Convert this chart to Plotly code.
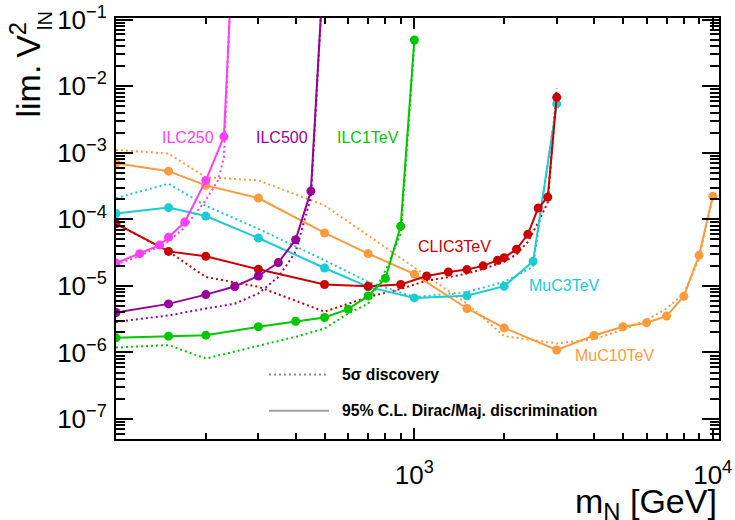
import plotly.graph_objects as go

# ---------------- data ----------------
ilc250_m = [100, 120, 140, 150, 170, 200, 230, 250]
ilc250_lim = [2.2e-5, 3.05e-5, 4.1e-5, 5.4e-5, 9.1e-5, 3.85e-4, 1.75e-3, 4.5]
ilc250_disc_m = [100, 120, 150, 170, 200, 220, 230, 250]
ilc250_disc = [2.1e-5, 2.8e-5, 4.6e-5, 7.6e-5, 1.95e-4, 3.9e-4, 8.5e-4, 8.5]

ilc500_m = [100, 150, 200, 250, 300, 350, 400, 450, 500]
ilc500_lim = [3.98e-6, 5.37e-6, 7.4e-6, 9.8e-6, 1.41e-5, 2.24e-5, 4.95e-5, 2.66e-4, 1.1]
ilc500_disc = [2.88e-6, 3.6e-6, 4.57e-6, 5.4e-6, 7.7e-6, 1.36e-5, 3.24e-5, 2.16e-4, 1.1]

ilc1_m = [100, 150, 200, 300, 400, 500, 600, 700, 800, 900, 1000]
ilc1_lim = [1.66e-6, 1.76e-6, 1.82e-6, 2.43e-6, 2.95e-6, 3.35e-6, 4.47e-6, 7.08e-6, 1.3e-5, 7.9e-5, 4.94e-2]
ilc1_disc = [1.19e-6, 1.29e-6, 8.1e-7, 1.24e-6, 1.72e-6, 2.29e-6, 3.85e-6, 5.4e-6, 1.7e-5, 6.1e-5, 4.5e-2]

clic_m = [100, 150, 200, 300, 500, 700, 900, 1100, 1300, 1500, 1700, 1900, 2000, 2200, 2400, 2600, 2800, 3000]
clic_lim = [8.6e-5, 3.3e-5, 2.78e-5, 1.78e-5, 1.05e-5, 9.9e-6, 1.05e-5, 1.41e-5, 1.62e-5, 1.76e-5,
            2.0e-5, 2.43e-5, 2.66e-5, 3.55e-5, 5.96e-5, 1.48e-4, 2.16e-4, 6.8e-3]
clic_disc = [8.6e-5, 3.3e-5, 1.36e-5, 9.7e-6, 4.1e-6, 6.8e-6, 9.0e-6, 1.2e-5, 1.35e-5, 1.53e-5,
             1.8e-5, 2.1e-5, 2.29e-5, 3.0e-5, 4.57e-5, 9.0e-5, 1.8e-4, 9.3e-3]

muc3_m = [100, 150, 200, 300, 500, 700, 1000, 1500, 2000, 2500, 3000]
muc3_lim = [1.22e-4, 1.5e-4, 1.12e-4, 5.25e-5, 1.86e-5, 9.66e-6, 6.6e-6, 7.1e-6, 9.9e-6, 2.34e-5, 5.43e-3]
muc3_disc = [2.09e-4, 3.43e-4, 1.6e-4, 7.2e-5, 2.43e-5, 1.15e-5, 6.8e-6, 8.1e-6, 1.15e-5, 1.93e-5, 6.0e-3]

muc10_m = [100, 150, 200, 300, 500, 700, 1000, 1500, 2000, 3000, 4000, 5000, 6000, 7000, 8000, 9000, 10000]
muc10_lim = [6.98e-4, 5.3e-4, 3.24e-4, 2.09e-4, 6.24e-5, 3.06e-5, 1.5e-5, 4.58e-6, 2.34e-6, 1.09e-6,
             1.8e-6, 2.43e-6, 2.79e-6, 3.52e-6, 7.0e-6, 2.88e-5, 2.23e-4]
muc10_disc = [1.11e-3, 9.7e-4, 4.3e-4, 3.85e-4, 1.62e-4, 5.7e-5, 1.89e-5, 5.4e-6, 1.76e-6, 1.37e-6,
              1.58e-6, 2.2e-6, 3.06e-6, 4.57e-6, 7.7e-6, 2.57e-5, 2.16e-4]

x_major = [1000, 10000]
x_major_text = ["10<sup>3</sup>", "10<sup>4</sup>"]
y_major = [1e-7, 1e-6, 1e-5, 1e-4, 1e-3, 1e-2, 1e-1]
y_major_text = ["10<sup>\u22127</sup>", "10<sup>\u22126</sup>", "10<sup>\u22125</sup>", "10<sup>\u22124</sup>",
                "10<sup>\u22123</sup>", "10<sup>\u22122</sup>", "10<sup>\u22121</sup>"]

colors = {
    "ILC250": "#ff3dff",
    "ILC500": "#990099",
    "ILC1TeV": "#00c800",
    "CLIC3TeV": "#cc0000",
    "MuC3TeV": "#1ccbd4",
    "MuC10TeV": "#ff9a3c",
}

series = [
    ("MuC10TeV", muc10_m, muc10_lim, muc10_m, muc10_disc),
    ("MuC3TeV", muc3_m, muc3_lim, muc3_m, muc3_disc),
    ("CLIC3TeV", clic_m, clic_lim, clic_m, clic_disc),
    ("ILC1TeV", ilc1_m, ilc1_lim, ilc1_m, ilc1_disc),
    ("ILC500", ilc500_m, ilc500_lim, ilc500_m, ilc500_disc),
    ("ILC250", ilc250_m, ilc250_lim, ilc250_disc_m, ilc250_disc),
]

DOT = "2px,3px"

fig = go.Figure()
for name, m, lim, dm, disc in series:
    fig.add_trace(go.Scatter(x=dm, y=disc, mode="lines", name=name + " disc",
                             line=dict(color=colors[name], width=2, dash=DOT)))
for name, m, lim, dm, disc in series:
    fig.add_trace(go.Scatter(x=m, y=lim, mode="lines+markers", name=name,
                             line=dict(color=colors[name], width=2),
                             marker=dict(color=colors[name], size=9)))

# curve labels
labels = [
    ("ILC250", 188, 137),
    ("ILC500", 281.7, 137),
    ("ILC1TeV", 368, 137),
    ("CLIC3TeV", 454.7, 246.7),
    ("MuC3TeV", 564, 285),
    ("MuC10TeV", 614, 355.7),
]
L, T, W, H = 116, 18, 603, 421
for name, px, py in labels:
    fig.add_annotation(text=name, xref="paper", yref="paper",
                       x=(px - L) / W, y=1 - (py - T) / H, showarrow=False,
                       xanchor="center", yanchor="middle",
                       font=dict(size=16, color=colors[name]))

# legend keys
leg = [("5\u03c3 discovery", DOT, "#8c8c8c", 374.5), ("95% C.L. Dirac/Maj. discrimination", "solid", "#a0a0a0", 410.7)]
for txt, dash, col, py in leg:
    yy = 1 - (py - T) / H
    fig.add_shape(type="line", xref="paper", yref="paper",
                  x0=(269 - L) / W, x1=(329 - L) / W, y0=yy, y1=yy,
                  line=dict(color=col, width=2, dash=dash))
    fig.add_annotation(text="<b>" + txt + "</b>", xref="paper", yref="paper",
                       x=(340 - L) / W, y=yy, showarrow=False, xanchor="left", yanchor="middle",
                       font=dict(size=15.7, color="black"))

# axis titles
fig.add_annotation(text="lim.\u2009V<sup>2</sup>", xref="paper", yref="paper",
                   x=(1 - L) / W, y=1 - (20 - T) / H, xanchor="left", yanchor="top", textangle=-90,
                   showarrow=False, font=dict(size=34, color="black"))
fig.add_annotation(text="lN", xref="paper", yref="paper",
                   x=(45 - L) / W, y=1 - (21 - T) / H, xanchor="center", yanchor="middle", textangle=-90,
                   showarrow=False, font=dict(size=20, color="black"))
fig.add_annotation(text="m<sub>N</sub> [GeV]", xref="paper", yref="paper",
                   x=1.0, y=-(503 - 439) / H, xanchor="right", yanchor="middle",
                   showarrow=False, font=dict(size=34, color="black"))

x_minor = [k * 10 ** e for e in (2, 3) for k in range(2, 10)]
y_minor = [k * 10.0 ** e for e in range(-8, -1) for k in range(2, 10) if k * 10.0 ** e > 5e-8]

fig.update_xaxes(type="log", range=[2, 4.021], tickmode="array", tickvals=x_major, ticktext=x_major_text,
                 ticks="inside", ticklen=11, tickwidth=2, tickcolor="black", automargin=False,
                 minor=dict(tickmode="array", tickvals=x_minor, ticks="inside", ticklen=6, tickwidth=2, tickcolor="black"),
                 showline=True, linewidth=2, linecolor="black", mirror="allticks",
                 showgrid=False, zeroline=False, tickfont=dict(size=26, color="black"), ticklabelstandoff=12)
fig.update_yaxes(type="log", range=[-7.3, -0.975], tickmode="array", tickvals=y_major, ticktext=y_major_text,
                 ticks="inside", ticklen=17, tickwidth=2, tickcolor="black", automargin=False,
                 minor=dict(tickmode="array", tickvals=y_minor, ticks="inside", ticklen=9, tickwidth=2, tickcolor="black"),
                 showline=True, linewidth=2, linecolor="black", mirror="allticks",
                 showgrid=False, zeroline=False, tickfont=dict(size=26, color="black"), ticklabelstandoff=2)

fig.update_layout(width=735, height=520, autosize=False,
                  margin=dict(l=L, r=735 - L - W, t=T, b=520 - T - H),
                  plot_bgcolor="white", paper_bgcolor="white", showlegend=False,
                  font=dict(family="Liberation Sans, Arial, sans-serif", color="black"))

fig.write_html("out.html")
